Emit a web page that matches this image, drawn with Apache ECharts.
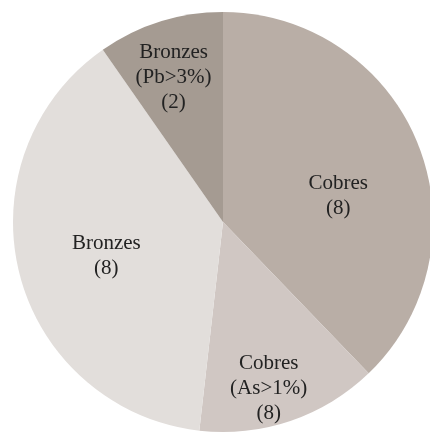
<!DOCTYPE html>
<html>
<head>
<meta charset="utf-8">
<script src="https://cdn.jsdelivr.net/npm/echarts@6/dist/echarts.min.js"></script>
<style>
  html, body { margin: 0; padding: 0; background: #ffffff; }
  #chart { width: 430px; height: 433px; }
</style>
</head>
<body>
<div id="chart"></div>
<script>
// Alloy groups, clockwise from the top
const groups = ['Cobres', 'Cobres\n(As>1%)', 'Bronzes', 'Bronzes\n(Pb>3%)'];
// Share of each group (percent of the pie)
const shares = [37.8, 14.0, 38.5, 9.7];
// Number of objects in each group, printed under the name
const counts = [8, 8, 8, 2];
const colors = ['#b9aea6', '#d0c7c3', '#e2dedb', '#a59b92'];
// Nudges for each label from its default inside position
const labelOffsets = [[15, 14], [11, 64], [-12, 7], [-17, -41]];

const chart = echarts.init(document.getElementById('chart'), null, { renderer: 'canvas' });

chart.setOption({
  animation: false,
  backgroundColor: '#ffffff',
  series: [{
    type: 'pie',
    center: [223, 222],
    radius: 210,
    startAngle: 90,
    clockwise: true,
    avoidLabelOverlap: false,
    silent: true,
    itemStyle: { borderWidth: 0 },
    label: {
      show: true,
      position: 'inside',
      fontFamily: 'Liberation Serif',
      fontSize: 21,
      lineHeight: 25,
      color: '#222222',
      align: 'center'
    },
    labelLine: { show: false },
    data: groups.map((g, i) => ({
      name: g,
      value: shares[i],
      itemStyle: { color: colors[i] },
      label: {
        formatter: g + '\n(' + counts[i] + ')',
        offset: labelOffsets[i]
      }
    }))
  }]
});
</script>
</body>
</html>
